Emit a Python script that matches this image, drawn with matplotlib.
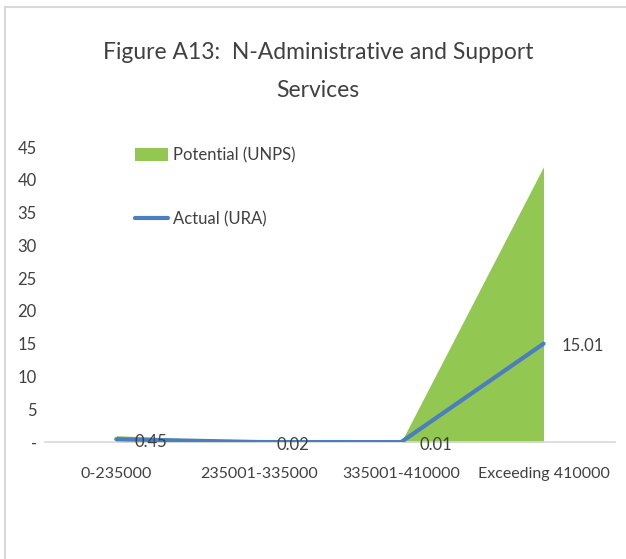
import matplotlib.pyplot as plt
import numpy as np
from matplotlib.lines import Line2D
from matplotlib.patches import Patch

# Data
categories = ['0-235000', '235001-335000', '335001-410000', 'Exceeding 410000']
potential_unps = [1.0, 0.05, 0.0, 42.0]
actual_ura = [0.45, 0.02, 0.01, 15.01]
yticks = [0, 5, 10, 15, 20, 25, 30, 35, 40, 45]
ytick_labels = ['-', '5', '10', '15', '20', '25', '30', '35', '40', '45']

green = '#92c852'
blue = '#4a7ebf'
grey_text = '#404040'

plt.rcParams['font.family'] = ['Lato', 'DejaVu Sans']

fig = plt.figure(figsize=(6.26, 5.59), dpi=100)
ax = fig.add_axes([0.072, 0.209, 0.91, 0.528])

x = np.arange(len(categories))
ax.fill_between(x, potential_unps, 0, color=green, linewidth=0, zorder=2)
ax.plot(x, actual_ura, color=blue, linewidth=3, solid_capstyle='round', zorder=3)

for xi, v in zip(x, actual_ura):
    ax.annotate(f'{v:.2f}', (xi, v), xytext=(13, -2), textcoords='offset points',
                ha='left', va='center', fontsize=12, color=grey_text, zorder=4)

ax.set_xlim(-0.5, len(categories) - 0.5)
ax.set_ylim(0, 45)
ax.set_xticks(x)
ax.set_xticklabels(categories, fontsize=11.5, color=grey_text)
ax.set_yticks(yticks)
ax.set_yticklabels(ytick_labels, fontsize=12, color=grey_text)
ax.tick_params(axis='both', length=0)
ax.tick_params(axis='x', pad=18)
ax.tick_params(axis='y', pad=6)

for side in ['top', 'right', 'left']:
    ax.spines[side].set_visible(False)
ax.spines['bottom'].set_color('#d9d9d9')
ax.spines['bottom'].set_linewidth(1.2)

handles = [Patch(facecolor=green, edgecolor='none'),
           Line2D([0], [0], color=blue, linewidth=3, solid_capstyle='round')]
ax.legend(handles, ['Potential (UNPS)', 'Actual (URA)'], loc='upper left',
          bbox_to_anchor=(0.131, 1.05), frameon=False, fontsize=12,
          labelcolor=grey_text, labelspacing=2.85, handlelength=2.0,
          handletextpad=0.3, handleheight=0.8)

fig.text(0.508, 0.872, 'Figure A13:  N-Administrative and Support\nServices',
         ha='center', va='center', fontsize=16.5, color=grey_text, linespacing=2.0)

# chart border (top and left edges visible)
fig.add_artist(Line2D([5 / 626, 5 / 626], [0, 1 - 7 / 559], transform=fig.transFigure,
                      color='#d9d9d9', linewidth=1.5))
fig.add_artist(Line2D([5 / 626, 1], [1 - 7 / 559, 1 - 7 / 559], transform=fig.transFigure,
                      color='#d9d9d9', linewidth=1.5))

plt.savefig('out.png', dpi=100)
